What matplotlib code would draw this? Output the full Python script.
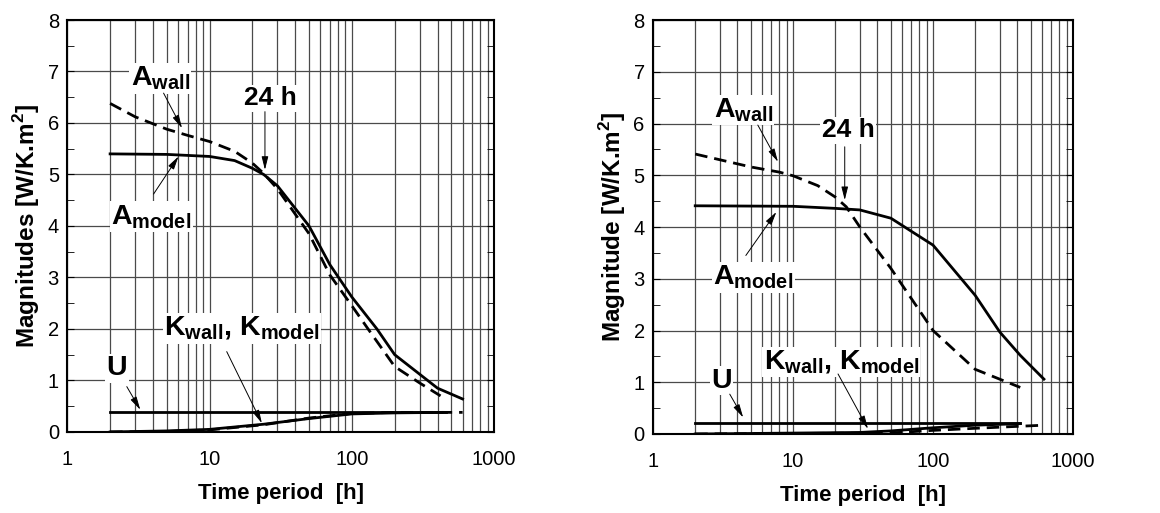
import matplotlib
matplotlib.use('Agg')
import matplotlib.pyplot as plt
from matplotlib.ticker import FixedLocator, NullFormatter, FixedFormatter

plt.rcParams['font.family'] = ['Liberation Sans', 'DejaVu Sans']
plt.rcParams['mathtext.fontset'] = 'custom'
plt.rcParams['mathtext.rm'] = 'Liberation Sans'
plt.rcParams['mathtext.bf'] = 'Liberation Sans:bold'

# ---- left panel data ----
L_awall_x = [2, 3, 5, 7, 10, 15, 20, 24, 30, 50, 70, 100, 130, 200, 300, 420]
L_awall_y = [6.38, 6.12, 5.88, 5.76, 5.64, 5.45, 5.22, 5.02, 4.72, 3.85, 3.05, 2.45, 2.0, 1.27, 0.95, 0.70]
L_amodel_x = [2, 5, 10, 15, 20, 24, 30, 50, 70, 100, 150, 200, 400, 600]
L_amodel_y = [5.40, 5.39, 5.35, 5.27, 5.12, 5.00, 4.78, 4.00, 3.25, 2.62, 2.00, 1.50, 0.85, 0.64]
L_u_x = [2, 460]
L_u_y = [0.38, 0.38]
L_kmodel_x = [2, 5, 10, 24, 50, 100, 200, 430]
L_kmodel_y = [0.0, 0.02, 0.05, 0.15, 0.26, 0.35, 0.37, 0.38]
L_kwall_x = [2, 5, 10, 24, 50, 100, 200, 430, 600]
L_kwall_y = [0.0, 0.01, 0.04, 0.14, 0.27, 0.36, 0.38, 0.38, 0.38]

# ---- right panel data ----
R_awall_x = [2, 5, 8, 10, 15, 20, 24, 30, 50, 100, 200, 420]
R_awall_y = [5.41, 5.16, 5.06, 4.99, 4.80, 4.58, 4.39, 4.00, 3.20, 2.00, 1.25, 0.90]
R_amodel_x = [2, 10, 20, 30, 50, 100, 200, 300, 420, 620]
R_amodel_y = [4.41, 4.40, 4.36, 4.33, 4.17, 3.65, 2.68, 1.97, 1.52, 1.06]
R_u_x = [2, 420]
R_u_y = [0.22, 0.22]
R_kmodel_x = [2, 30, 50, 100, 200, 420]
R_kmodel_y = [0.0, 0.03, 0.06, 0.12, 0.17, 0.20]
R_kwall_x = [2, 50, 100, 200, 420, 620]
R_kwall_y = [0.0, 0.02, 0.07, 0.11, 0.15, 0.17]

x_ticks = [1, 10, 100, 1000]
x_tick_labels = ['1', '10', '100', '1000']
y_ticks = [0, 1, 2, 3, 4, 5, 6, 7, 8]

GRID = '#4a4a4a'
LW = 2.0
DASH = (0, (4.5, 2.5))


def setup_axes(ax, ylabel):
    ax.set_xscale('log')
    ax.set_xlim(1, 1000)
    ax.set_ylim(0, 8)
    ax.xaxis.set_major_locator(FixedLocator(x_ticks))
    ax.xaxis.set_major_formatter(FixedFormatter(x_tick_labels))
    minors = [m * 10 ** d for d in range(0, 3) for m in range(2, 10)]
    ax.xaxis.set_minor_locator(FixedLocator(minors))
    ax.xaxis.set_minor_formatter(NullFormatter())
    ax.yaxis.set_major_locator(FixedLocator(y_ticks))
    ax.yaxis.set_minor_locator(FixedLocator([v + 0.5 for v in y_ticks[:-1]]))
    ax.grid(which='major', axis='both', color=GRID, lw=0.9)
    ax.grid(which='minor', axis='x', color=GRID, lw=0.9)
    ax.tick_params(axis='y', which='both', direction='in', right=True, length=5,
                   labelsize=14.5, pad=6)
    ax.tick_params(axis='x', which='both', length=0, labelsize=14.5, pad=13)
    for s in ax.spines.values():
        s.set_linewidth(1.5)
    ax.set_xlabel('Time period  [h]', fontsize=16, fontweight='bold', labelpad=10)
    ax.set_ylabel(ylabel, fontsize=17.5, fontweight='bold', labelpad=4)
    ax.set_axisbelow(True)


def label(ax, text, xy, arrow_from, arrow_to, fs=20.5):
    ax.text(xy[0], xy[1], text, ha='center', va='center', fontsize=fs,
            fontweight='bold', zorder=5,
            bbox=dict(facecolor='white', edgecolor='none', pad=1.0))
    ax.annotate('', xy=arrow_to, xytext=arrow_from, zorder=6,
                arrowprops=dict(arrowstyle='-|>,head_length=0.8,head_width=0.2',
                                color='black', lw=0.7, shrinkA=0, shrinkB=0))


fig = plt.figure(figsize=(11.6, 5.13), dpi=100)
fig.patch.set_facecolor('white')
ax1 = fig.add_axes([0.058, 0.158, 0.368, 0.803])
ax2 = fig.add_axes([0.563, 0.154, 0.362, 0.807])

# left panel
setup_axes(ax1, r'Magnitudes [W/K.m$^\mathbf{2}$]')
ax1.plot(L_awall_x, L_awall_y, color='black', lw=LW, ls=DASH)
ax1.plot(L_amodel_x, L_amodel_y, color='black', lw=LW)
ax1.plot(L_kwall_x, L_kwall_y, color='black', lw=LW, ls=DASH)
ax1.plot(L_kmodel_x, L_kmodel_y, color='black', lw=LW)
ax1.plot(L_u_x, L_u_y, color='black', lw=LW)

label(ax1, r'A$_{\mathbf{wall}}$', (4.5, 6.87), (4.75, 6.58), (6.4, 5.9))
label(ax1, '24 h', (26.6, 6.48), (24.5, 6.22), (24.5, 5.09), fs=19)
label(ax1, r'A$_{\mathbf{model}}$', (3.9, 4.18), (4.04, 4.62), (6.05, 5.35))
label(ax1, r'K$_{\mathbf{wall}}$, K$_{\mathbf{model}}$', (16.8, 2.01), (13.2, 1.56), (23.3, 0.17))
label(ax1, 'U', (2.23, 1.24), (2.62, 0.88), (3.26, 0.43))

# right panel
setup_axes(ax2, r'Magnitude [W/K.m$^\mathbf{2}$]')
ax2.plot(R_awall_x, R_awall_y, color='black', lw=LW, ls=DASH)
ax2.plot(R_amodel_x, R_amodel_y, color='black', lw=LW)
ax2.plot(R_kwall_x, R_kwall_y, color='black', lw=LW, ls=DASH)
ax2.plot(R_kmodel_x, R_kmodel_y, color='black', lw=LW)
ax2.plot(R_u_x, R_u_y, color='black', lw=LW)

label(ax2, r'A$_{\mathbf{wall}}$', (4.4, 6.26), (5.6, 5.97), (7.8, 5.26))
label(ax2, '24 h', (24.7, 5.87), (23.4, 5.55), (23.4, 4.52), fs=19)
label(ax2, r'A$_{\mathbf{model}}$', (5.2, 3.03), (4.6, 3.45), (7.6, 4.29))
label(ax2, r'K$_{\mathbf{wall}}$, K$_{\mathbf{model}}$', (22.1, 1.39), (20.96, 1.16), (34.3, 0.1))
label(ax2, 'U', (3.08, 1.03), (3.53, 0.77), (4.4, 0.32))

fig.savefig('out.png', dpi=100, facecolor='white')
plt.close(fig)
